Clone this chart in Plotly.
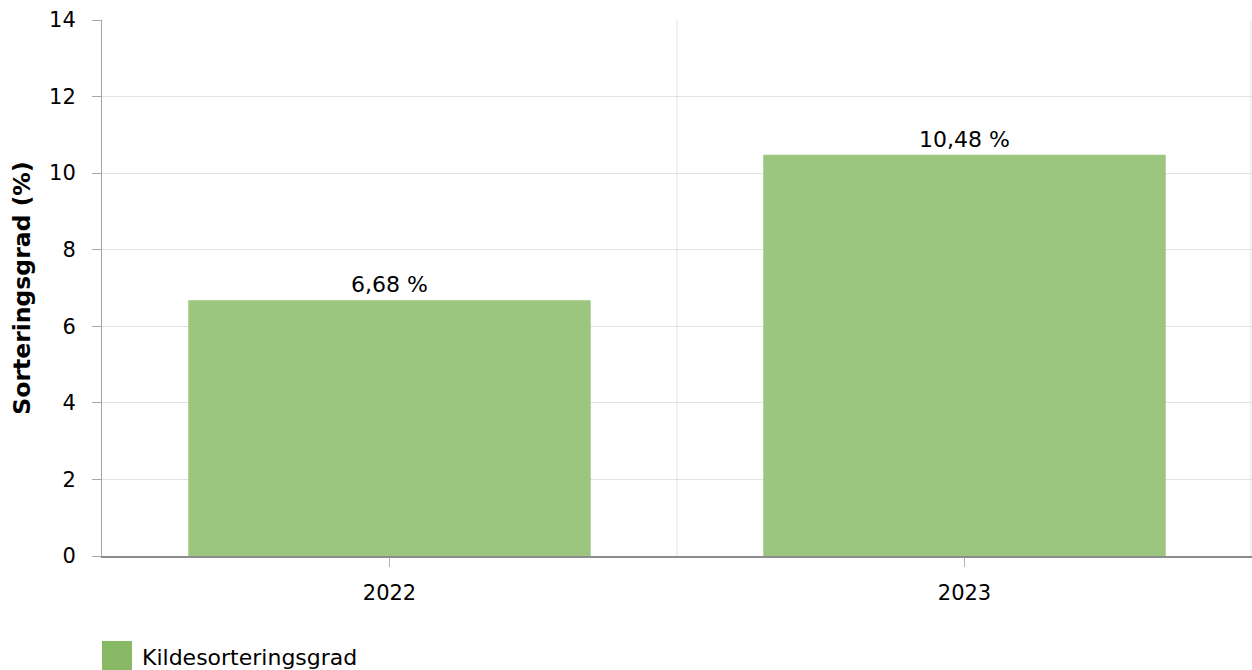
import plotly.graph_objects as go

categories = ["2022", "2023"]
values = [6.68, 10.48]
series_name = "Kildesorteringsgrad"
y_title = "Sorteringsgrad (%)"
y_ticks = [0, 2, 4, 6, 8, 10, 12, 14]

labels = [f"{v:.2f}".replace(".", ",") + " %" for v in values]
xpos = list(range(len(categories)))

FONT = "DejaVu Sans, Verdana, sans-serif"
W, H = 1252, 670
L, R, T, B = 102, 0, 20, 114
pw, ph = W - L - R, H - T - B
PLOT_BOTTOM = 556  # in page pixels

def py(page_y):
    return -(page_y - PLOT_BOTTOM) / ph

def px(page_x):
    return (page_x - L) / pw

fig = go.Figure()
fig.add_trace(go.Bar(
    x=xpos, y=values, width=0.70,
    marker=dict(color="rgb(156,197,127)", line=dict(width=0)),
    text=labels, textposition="outside", cliponaxis=False,
    textfont=dict(size=22, color="#000000", family=FONT),
    showlegend=False, name=series_name,
))

# category boundary gridlines
for b in [0.5, 1.498]:
    fig.add_shape(type="line", xref="x", yref="paper", x0=b, x1=b, y0=0, y1=1,
                  line=dict(color="#e2e2e2", width=1), layer="below")

# manual legend
fig.add_shape(type="rect", xref="paper", yref="paper",
              x0=0, x1=px(132), y0=py(670), y1=py(641),
              fillcolor="#87b964", line=dict(width=0))
fig.add_annotation(xref="paper", yref="paper", x=px(140), y=py(657),
                   text=series_name, showarrow=False, xanchor="left", yanchor="middle",
                   font=dict(size=22, color="#000000", family=FONT))

fig.update_layout(
    width=W, height=H, margin=dict(l=L, r=R, t=T, b=B),
    paper_bgcolor="white", plot_bgcolor="white",
    font=dict(family=FONT, size=22, color="#000000"),
    xaxis=dict(range=[-0.5, 1.5], tickmode="array", tickvals=xpos, ticktext=categories,
               showgrid=False, zeroline=False, showline=True, linecolor="#8c8c8c", linewidth=2,
               ticks="outside", ticklen=9, tickcolor="#b0b0b0", tickwidth=1,
               ticklabelstandoff=8,
               tickfont=dict(size=21, family=FONT, color="#000000")),
    yaxis=dict(range=[0, 14], tickmode="array", tickvals=y_ticks,
               showgrid=True, gridcolor="#e2e2e2", gridwidth=1, zeroline=False,
               showline=True, linecolor="#a6a6a6", linewidth=1,
               ticks="outside", ticklen=9, tickcolor="#a6a6a6",
               ticklabelstandoff=12,
               tickfont=dict(size=21, family=FONT, color="#000000"),
               title=dict(text="<b>" + y_title + "</b>", font=dict(size=23.5, family=FONT, color="#000000"),
                          standoff=11)),
)

fig.write_html("out.html", config={"displayModeBar": False},
               post_script="document.body.style.margin='0';document.body.style.overflow='hidden';")
